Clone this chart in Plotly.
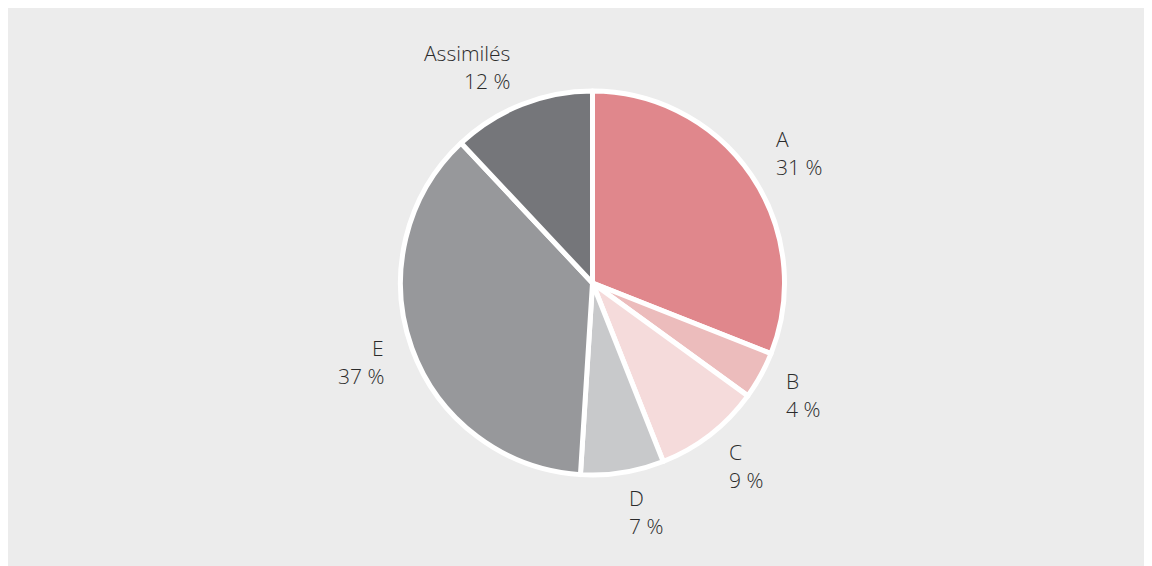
import math
import plotly.graph_objects as go

labels = ["A", "B", "C", "D", "E", "Assimilés"]
values = [31, 4, 9, 7, 37, 12]
colors = ["#e0878c", "#ecbcbc", "#f5dbdb", "#c8c9cb", "#97989b", "#75767a"]

W, H = 1152, 566
cx, cy, r = 584.5, 275.0, 192.0
label_rx, label_ry = 219.0, 232.0
line_gap = 14

fig = go.Figure()
fig.add_trace(go.Pie(
    labels=labels,
    values=values,
    sort=False,
    direction="clockwise",
    rotation=0,
    marker=dict(colors=colors, line=dict(color="white", width=5)),
    textinfo="none",
    hoverinfo="label+percent",
    showlegend=False,
    domain=dict(x=[(cx - r) / W, (cx + r) / W], y=[(H - cy - r) / H, (H - cy + r) / H]),
))

total = sum(values)
cum = 0
annotations = []
font = dict(family="Open Sans, Segoe UI, sans-serif", size=21, color="#2b2b2b", weight=300)
for lab, v in zip(labels, values):
    mid = (cum + v / 2) / total * 2 * math.pi
    cum += v
    px = cx + label_rx * math.sin(mid)
    py = cy - label_ry * math.cos(mid)
    right_side = math.sin(mid) >= 0
    xanchor = "left" if right_side else "right"
    pct = round(v / total * 100)
    for txt, shift in ((lab, line_gap), (f"{pct} %", -line_gap)):
        annotations.append(dict(
            x=px / W, y=1 - py / H, xref="paper", yref="paper",
            text=txt, showarrow=False, xanchor=xanchor, yanchor="middle",
            align=xanchor, yshift=shift, font=font,
        ))

fig.update_layout(
    width=W, height=H,
    margin=dict(l=0, r=0, t=0, b=0),
    paper_bgcolor="#ececec",
    plot_bgcolor="#ececec",
    annotations=annotations,
)

fig.write_html("out.html")
